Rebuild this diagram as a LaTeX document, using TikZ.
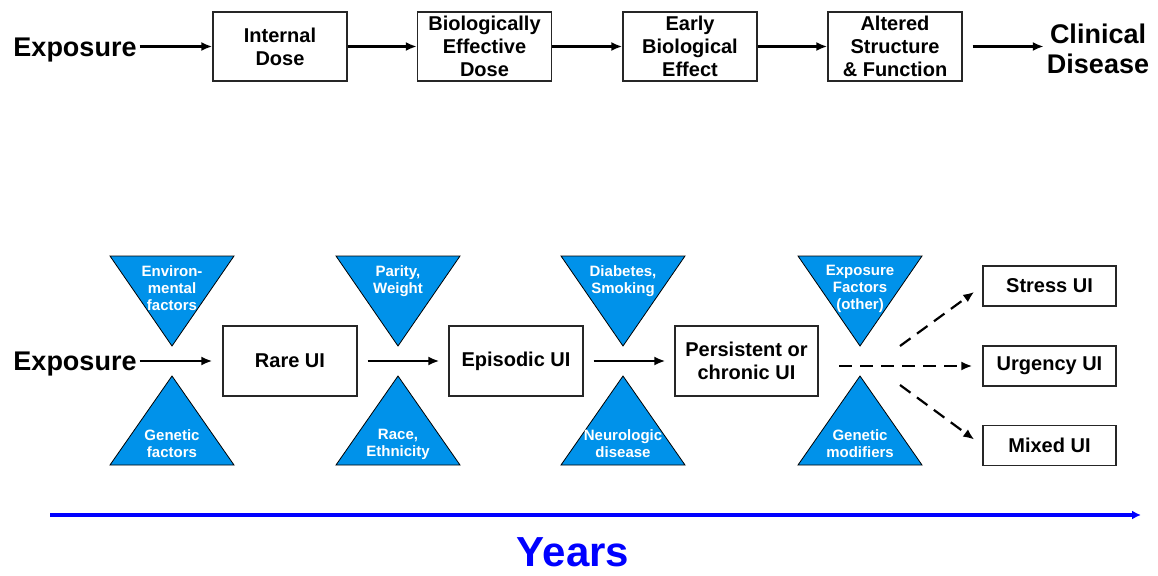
\documentclass[tikz,border=0pt]{standalone}
\usepackage{fontspec}
\setmainfont{Liberation Sans}
\usepackage{tikz}
\usetikzlibrary{arrows.meta}
\definecolor{triblue}{RGB}{0,146,234}

\tikzset{
  stage/.style={draw=black!85, line width=1.3pt, minimum width=134pt, minimum height=69pt,
    align=center, inner sep=0pt, font=\fontsize{20}{23}\selectfont\bfseries},
  outcome/.style={stage, minimum height=40pt, minimum width=133pt},
  big/.style={align=center, inner sep=3pt, font=\fontsize{27}{30}\selectfont\bfseries},
  flow/.style={-{Latex[length=11pt,width=9pt]}, line width=2.2pt},
  maybe/.style={flow, dash pattern=on 13pt off 8pt},
  factor/.style={fill=triblue, draw=black, line width=0.8pt},
  factortext/.style={text=white, align=center, inner sep=0pt, font=\fontsize{15}{17}\selectfont\bfseries},
}

\begin{document}
\begin{tikzpicture}[x=1pt, y=-1pt]
\useasboundingbox (0,0) rectangle (1158,575);

% upper chain
\node[big] (expA) at (75,50) {Exposure};
\node[stage] (dose) at (280,46.5) {Internal\\Dose};
\node[stage] (bed) at (484.5,46.5) {Biologically\\Effective\\Dose};
\node[stage] (ebe) at (690,46.5) {Early\\Biological\\Effect};
\node[stage] (asf) at (895,46.5) {Altered\\Structure\\\& Function};
\node[big] (clin) at (1098,49) {Clinical\\Disease};

\draw[flow] (expA.east |- dose) -- (dose);
\draw[flow] (dose) -- (bed);
\draw[flow] (bed) -- (ebe);
\draw[flow] (ebe) -- (asf);
\draw[flow, shorten <=10pt] (asf) -- (clin.west |- asf);

% modifiers
\foreach \cx/\facA/\facB [count=\i] in {172/{Environ-\\mental\\factors}/{Genetic\\factors},
    398/{Parity,\\Weight}/{Race,\\Ethnicity},
    623/{Diabetes,\\Smoking}/{Neurologic\\disease},
    860/{Exposure\\Factors\\(other)}/{Genetic\\modifiers}}{
  \draw[factor] (\cx-62,256) -- (\cx+62,256) -- (\cx,346) -- cycle;
  \draw[factor] (\cx,376) -- (\cx+62,465) -- (\cx-62,465) -- cycle;
  \node[factortext, anchor=north] (upper\i) at (\cx,265) {\facA};
  \node[factortext, anchor=north] (lower\i) at (\cx,429) {\facB};
}

% lower chain
\node[big] (expB) at (75,364) {Exposure};
\node[stage, minimum height=70pt] (rare) at (290,361) {Rare UI};
\node[stage, minimum height=70pt] (epis) at (516,361) {Episodic UI};
\node[stage, minimum height=70pt, minimum width=143pt] (pers) at (746.5,361) {Persistent or\\chronic UI};

\node[outcome] (stress) at (1049.5,286) {Stress UI};
\node[outcome] (urg) at (1049.5,366) {Urgency UI};
\node[outcome] (mixed) at (1049.5,445.5) {Mixed UI};

\draw[flow, shorten >=10pt] (expB.east |- rare) -- (rare);
\draw[flow, shorten <=10pt, shorten >=9pt] (rare) -- (epis);
\draw[flow, shorten <=10pt, shorten >=9pt] (epis) -- (pers);

\coordinate (fork) at (839,366);
\coordinate (forkup) at (900,346);
\coordinate (forkdn) at (900,385);
\draw[maybe, shorten >=10pt] (forkup) -- (stress.west);
\draw[maybe, shorten >=10pt] (fork) -- (urg.west);
\draw[maybe, shorten >=10pt] (forkdn) -- (mixed.west);

% time axis
\coordinate (t0) at (50,515);
\coordinate (t1) at (1141,515);
\draw[blue, line width=3.2pt, -{Latex[length=9pt,width=9pt]}] (t0) -- (t1);
\node[text=blue, font=\fontsize{42}{46}\selectfont\bfseries] (years) at (573,552) {Years};
\end{tikzpicture}
\end{document}
